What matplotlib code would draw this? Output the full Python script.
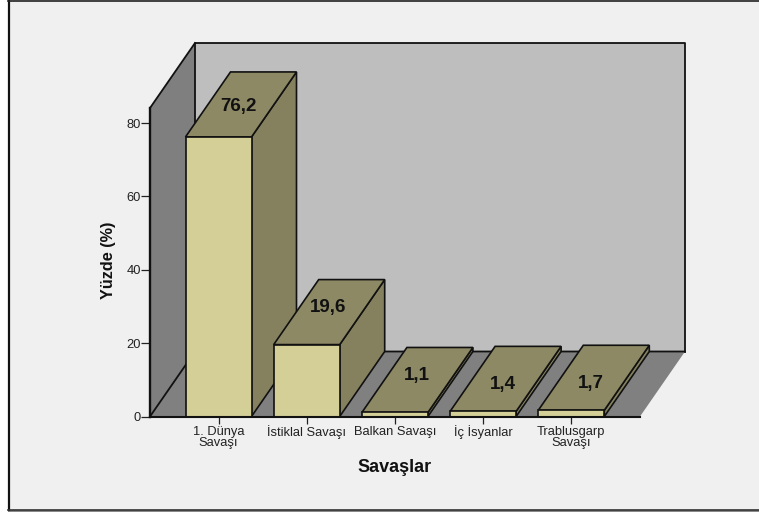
import matplotlib
matplotlib.use("Agg")
import matplotlib.pyplot as plt
from matplotlib.patches import Polygon

categories = ["1. Dünya\nSavaşı", "İstiklal Savaşı", "Balkan Savaşı", "İç İsyanlar", "Trablusgarp\nSavaşı"]
values = [76.2, 19.6, 1.1, 1.4, 1.7]
labels = ["76,2", "19,6", "1,1", "1,4", "1,7"]
yticks = [0, 20, 40, 60, 80]
label_nudge = [(-3, -2), (-1, 5), (-0.5, 4), (-3, -6), (-3, -6)]

W, H = 759, 512
plt.rcParams["font.family"] = ["Liberation Sans", "DejaVu Sans"]
fig = plt.figure(figsize=(W / 100, H / 100), dpi=100, facecolor="#F0F0F0")

# white margin on the left and the dark frame edges
fig.add_artist(plt.Rectangle((0, 0), 8 / W, 1, transform=fig.transFigure, fc="white", ec="none"))
fig.add_artist(plt.Line2D([9 / W, 9 / W], [1 - 509.5 / H, 1], transform=fig.transFigure, color="#111111", lw=1.6))
fig.add_artist(plt.Line2D([8 / W, 1], [1 - 0.6 / H, 1 - 0.6 / H], transform=fig.transFigure, color="#222222", lw=1.2))
fig.add_artist(plt.Rectangle((8 / W, 0), 1 - 8 / W, 2 / H, transform=fig.transFigure, fc="#8A8A8A", ec="none"))
fig.add_artist(plt.Line2D([8 / W, 1], [1 - 509.5 / H, 1 - 509.5 / H], transform=fig.transFigure, color="#333333", lw=1.2))

left, right, y0, y80 = 150.0, 640.0, 416.5, 123.0
ytop = 108.0
ax = fig.add_axes([left / W, 1 - y0 / H, (right - left) / W, (y0 - ytop) / H])
ppu = (y0 - y80) / 80
ymax = (y0 - ytop) / ppu
ax.set_ylim(0, ymax)
step = 88.2
xmin = -(218.5 - left) / step
ax.set_xlim(xmin, xmin + (right - left) / step)
ax.patch.set_visible(False)

dx = 45 / step          # depth offset in data units
dy = 65 / ppu
bw = 66 / step
x0, x1 = ax.get_xlim()
EC = "#111111"

def poly(pts, fc, z, lw=1.2, ec=EC):
    ax.add_patch(Polygon(pts, closed=True, fc=fc, ec=ec, lw=lw, clip_on=False, zorder=z, joinstyle="miter"))

def edge(xs, ys, z=1.5, lw=1.3):
    ax.plot(xs, ys, color=EC, lw=lw, clip_on=False, zorder=z, solid_capstyle="projecting")

# walls and floor
poly([(x0 + dx, dy), (x1 + dx, dy), (x1 + dx, ymax + dy), (x0 + dx, ymax + dy)], "#BEBEBE", 1, 0, "none")
poly([(x0, 0), (x0 + dx, dy), (x0 + dx, ymax + dy), (x0, ymax)], "#7F7F7F", 1.1, 0, "none")
poly([(x0, 0), (x1, 0), (x1 + dx, dy), (x0 + dx, dy)], "#808080", 1.2, 0, "none")
edge([x0 + dx, x0 + dx, x1 + dx, x1 + dx], [dy, ymax + dy, ymax + dy, dy])
edge([x0, x0 + dx], [ymax, ymax + dy])
edge([x0, x0 + dx, x1 + dx], [0, dy, dy])

# bars, painted left to right
for i, v in enumerate(values):
    a, b = i - bw / 2, i + bw / 2
    z = 2 + i
    poly([(b, 0), (b + dx, dy), (b + dx, v + dy), (b, v)], "#85815F", z)
    poly([(a, v), (b, v), (b + dx, v + dy), (a + dx, v + dy)], "#8D8965", z)
    poly([(a, 0), (b, 0), (b, v), (a, v)], "#D3CF97", z)
    nx, ny = label_nudge[i]
    ax.annotate(labels[i], (i + dx / 2, v + dy / 2), xytext=(nx * 0.72, ny * 0.72), textcoords="offset points",
                ha="center", va="center", fontsize=13.5, fontweight="bold", color="#111111", zorder=20,
                annotation_clip=False)

for s in ("top", "right"):
    ax.spines[s].set_visible(False)
ax.spines["left"].set_linewidth(1.7)
ax.spines["bottom"].set_linewidth(1.5)
for s in ("left", "bottom"):
    ax.spines[s].set_color(EC)
    ax.spines[s].set_zorder(15)
ax.set_yticks(yticks)
ax.set_xticks(range(len(categories)))
ax.set_xticklabels(categories, fontsize=9.3, linespacing=0.9, color="#222222")
ax.tick_params(axis="y", labelsize=9.3, length=6.5, width=0.9, pad=0, labelcolor="#222222", color="#222222")
ax.tick_params(axis="x", length=5, width=0.9, pad=1.5, color="#222222")

fig.text(395 / W, 1 - 467 / H, "Savaşlar", ha="center", va="center", fontsize=13, fontweight="bold", color="#111111")
fig.text(108 / W, 1 - 260 / H, "Yüzde (%)", ha="center", va="center", rotation=90, fontsize=11.7, fontweight="bold", color="#111111")

fig.savefig("out.png", dpi=100, facecolor=fig.get_facecolor())
